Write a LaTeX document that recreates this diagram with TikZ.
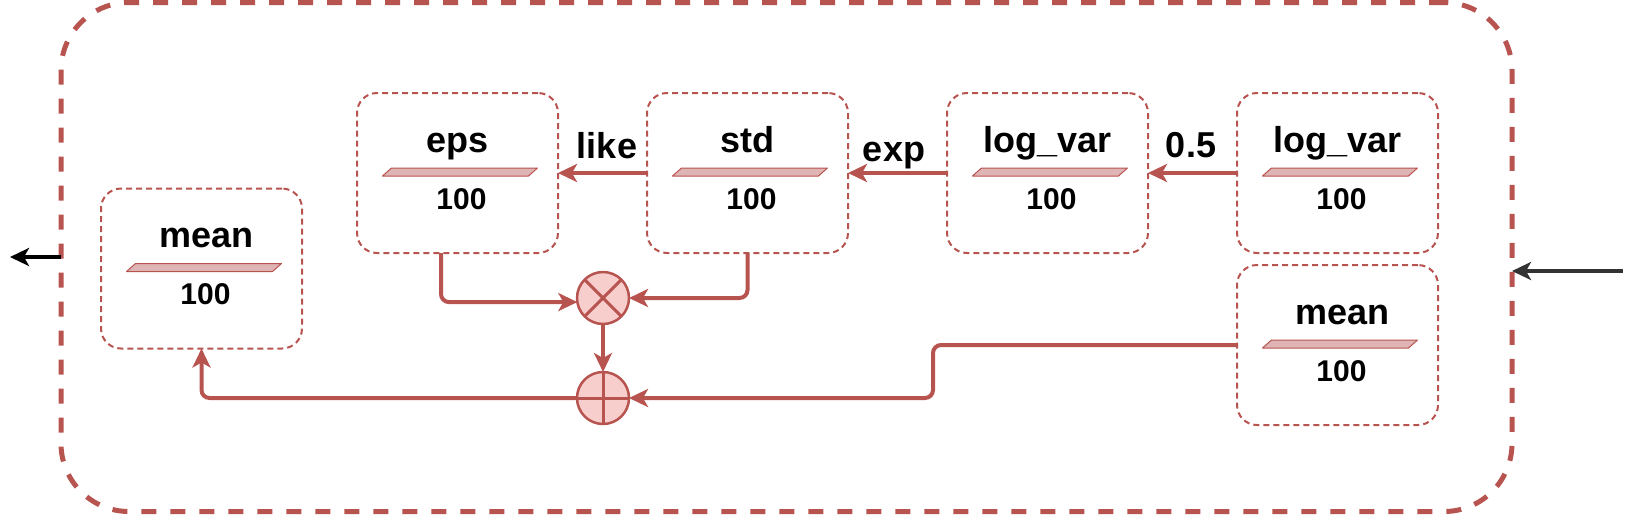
\documentclass[tikz,border=0pt]{standalone}
\usepackage{fontspec}
\setmainfont{Liberation Sans}
\usetikzlibrary{arrows.meta}
\definecolor{rd}{HTML}{B85450}
\definecolor{lrd}{HTML}{F8CECC}
\definecolor{barfill}{HTML}{DFB4B4}
\definecolor{dk}{HTML}{333333}
\newcommand\layerbox[5]{%
  \node[box] (#1) at (#2,#3) {};
  \node[ttl, anchor=base] (#1t) at (#2+#5,#3-21) {#4};
  \draw[barsty] (#2-75,#3+3) -- (#2-66,#3-5) -- (#2+80,#3-5) -- (#2+71,#3+3) -- cycle;
  \node[num, anchor=base] (#1n) at (#2+4,#3+36) {100};
}
\begin{document}
\begin{tikzpicture}[x=1pt,y=-1pt,
  box/.style={draw=rd, dash pattern=on 6pt off 4pt, line width=2pt, rounded corners=20pt,
    minimum width=201pt, minimum height=160pt, inner sep=0pt, outer sep=0pt},
  ttl/.style={font=\fontsize{36}{40}\selectfont\bfseries, inner sep=0pt},
  num/.style={font=\fontsize{30}{34}\selectfont\bfseries, inner sep=0pt},
  barsty/.style={draw=rd, fill=barfill, line width=1pt, line join=round},
  tip/.style={-{Stealth[length=19pt,width=18pt,inset=5pt]}},
  conn/.style={draw=rd, line width=4pt, tip, rounded corners=8pt},
  op/.style={circle, draw=rd, fill=lrd, line width=2.5pt, minimum size=52pt, inner sep=0pt, outer sep=0pt},
  outerbox/.style={draw=rd, line width=5pt, dash pattern=on 15pt off 14pt, rounded corners=68pt,
    minimum width=1451pt, minimum height=509pt, inner sep=0pt, outer sep=0pt},
]
\useasboundingbox (0,0) rectangle (1633,515);
\node[outerbox] (outer) at (786.5,257) {};

\layerbox{eps}{457.5}{173}{eps}{0}
\layerbox{std}{747.5}{173}{std}{0}
\layerbox{lvA}{1047.5}{173}{log\_var}{0}
\layerbox{lvB}{1337.5}{173}{log\_var}{0}
\layerbox{meanR}{1337.5}{345}{mean}{5}
\layerbox{meanL}{201.5}{268.5}{mean}{5}

\node[op] (mul) at (603,298) {};
\draw[rd, line width=3pt] (mul.45) -- (mul.225) (mul.135) -- (mul.315);
\node[op] (add) at (603,398) {};
\draw[rd, line width=3pt] (add.north) -- (add.south) (add.west) -- (add.east);

\draw[conn] (std.west) -- (eps.east);
\draw[conn] (lvA.west) -- (std.east);
\draw[conn] (lvB.west) -- (lvA.east);
\node[ttl, anchor=base] (lblike) at (607,158) {like};
\node[ttl, anchor=base] (lblexp) at (894,161) {exp};
\node[ttl, anchor=base] (lblhalf) at (1191,157) {0.5};

\draw[conn] ([xshift=-16.5pt]eps.south) |- (mul.189);
\draw[conn] (std.south) |- (mul.east);
\draw[conn] (mul.south) -- (add.north);
\coordinate (jR) at (933,345);
\draw[conn] (meanR.west) -- (jR) |- (add.east);
\draw[conn] (add.west) -| (meanL.south);

\coordinate (outL) at (10,257);
\coordinate (inR) at (1623,271);
\draw[black, line width=4pt, tip] (outer.west) -- (outL);
\draw[dk, line width=3.5pt, tip] (inR) -- ([yshift=-14pt]outer.east);
\end{tikzpicture}
\end{document}
